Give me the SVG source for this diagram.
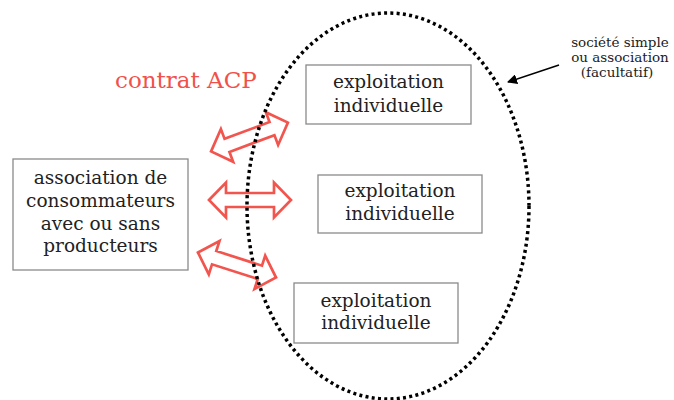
<svg xmlns="http://www.w3.org/2000/svg" width="674" height="400" viewBox="0 0 674 400">
<style>
.box{fill:#fff;stroke:#8a8a8a;stroke-width:1.3}
.t{font-family:"DejaVu Serif","Liberation Serif",serif;font-size:18.5px;fill:#222;text-anchor:middle}
.note{font-family:"DejaVu Serif","Liberation Serif",serif;font-size:13.5px;fill:#222;text-anchor:middle}
.red{font-family:"DejaVu Serif","Liberation Serif",serif;font-size:23px;fill:#f2504a}
.arr{fill:#fff;stroke:#f2554e;stroke-width:2.7;stroke-linejoin:miter}
</style>
<defs>
<path id="da" d="M -41 0 L -24 -17.5 L -24 -7 L 24 -7 L 24 -17.5 L 41 0 L 24 17.5 L 24 7 L -24 7 L -24 17.5 Z"/>
<marker id="ah" viewBox="0 0 10 10" refX="9" refY="5" markerWidth="10" markerHeight="10" markerUnits="userSpaceOnUse" orient="auto">
<path d="M0 0 L10 5 L0 10 Z" fill="#000"/>
</marker>
</defs>
<rect width="674" height="400" fill="#fff"/>
<g id="connectors">
<use href="#da" class="arr" transform="translate(249.5,137) rotate(-20.5)"/>
<use href="#da" class="arr" transform="translate(250,200)"/>
<use href="#da" class="arr" transform="translate(237,265) rotate(17.8)"/>
<line x1="559" y1="65" x2="508" y2="82" stroke="#000" stroke-width="1.6" marker-end="url(#ah)"/>
</g>
<g id="label-contrat">
<text class="red" x="115" y="88">contrat ACP</text>
</g>
<g id="association">
<rect class="box" x="13" y="159" width="175" height="111"/>
<text class="t" x="100.5" y="184">association de</text>
<text class="t" x="100.5" y="207">consommateurs</text>
<text class="t" x="100.5" y="230">avec ou sans</text>
<text class="t" x="100.5" y="252">producteurs</text>
</g>
<g id="exploitation1">
<rect class="box" x="306" y="65" width="165" height="59"/>
<text class="t" x="388.5" y="88">exploitation</text>
<text class="t" x="388.5" y="112">individuelle</text>
</g>
<g id="exploitation2">
<rect class="box" x="318" y="175" width="164" height="58"/>
<text class="t" x="400" y="197">exploitation</text>
<text class="t" x="400" y="220">individuelle</text>
</g>
<g id="exploitation3">
<rect class="box" x="294" y="283" width="164" height="60"/>
<text class="t" x="376" y="307">exploitation</text>
<text class="t" x="376" y="329">individuelle</text>
</g>
<g id="societe">
<ellipse cx="388" cy="206" rx="141" ry="193" fill="none" stroke="#000" stroke-width="3.5" stroke-dasharray="3 3.3"/>
</g>
<g id="note">
<text class="note" x="620" y="47">société simple</text>
<text class="note" x="620" y="62">ou association</text>
<text class="note" x="617" y="77">(facultatif)</text>
</g>
</svg>
